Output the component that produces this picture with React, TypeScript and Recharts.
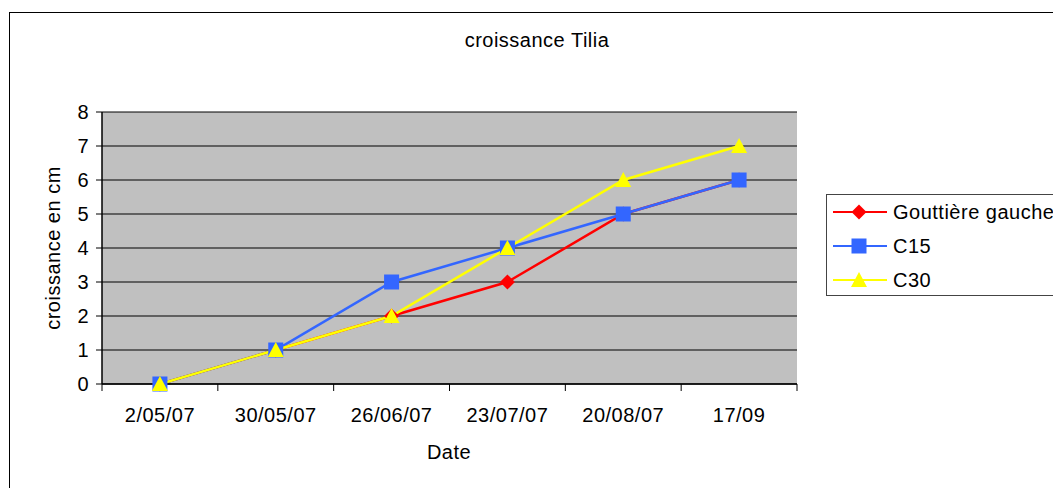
import { LineChart, Line, XAxis, YAxis, CartesianGrid } from "recharts";

const dates = ["2/05/07", "30/05/07", "26/06/07", "23/07/07", "20/08/07", "17/09"];
const gouttiere = [0, 1, 2, 3, 5, 6];
const c15 = [0, 1, 3, 4, 5, 6];
const c30 = [0, 1, 2, 4, 6, 7];
const yTicks = [0, 1, 2, 3, 4, 5, 6, 7, 8];

const seriesNames = ["Gouttière gauche", "C15", "C30"];
const RED = "#FF0000";
const BLUE = "#3366FF";
const YELLOW = "#FFFF00";

const data = dates.map((date, i) => ({
  date,
  gouttiere: gouttiere[i],
  c15: c15[i],
  c30: c30[i],
}));

const FONT = "'Liberation Sans', Arial, sans-serif";
const FS = 20;
const LS = 0.5;
const W = 1053;
const H = 488;
const PLOT_LEFT = 102;
const PLOT_RIGHT = 797;
const HALF_BAND = (PLOT_RIGHT - PLOT_LEFT) / dates.length / 2;

function Diamond({ cx, cy }: { cx: number; cy: number }) {
  const r = 7.5;
  return (
    <polygon
      points={`${cx},${cy - r} ${cx + r},${cy} ${cx},${cy + r} ${cx - r},${cy}`}
      fill={RED}
    />
  );
}

function Square({ cx, cy }: { cx: number; cy: number }) {
  return <rect x={cx - 7.5} y={cy - 7.5} width={15} height={15} fill={BLUE} />;
}

function Triangle({ cx, cy }: { cx: number; cy: number }) {
  return (
    <polygon
      points={`${cx},${cy - 8} ${cx + 8},${cy + 7} ${cx - 8},${cy + 7}`}
      fill={YELLOW}
    />
  );
}

function XTick(props: any) {
  const { x, y, payload, index } = props;
  const last = index === dates.length - 1;
  return (
    <g>
      <line x1={x - HALF_BAND} y1={y} x2={x - HALF_BAND} y2={y + 7} stroke="#000" />
      {last && <line x1={x + HALF_BAND} y1={y} x2={x + HALF_BAND} y2={y + 7} stroke="#000" />}
      <text
        x={x}
        y={y + 38}
        textAnchor="middle"
        fontSize={FS}
        fontFamily={FONT}
        letterSpacing={LS}
        fill="#000"
      >
        {payload.value}
      </text>
    </g>
  );
}

function LegendBox() {
  const markers = [Diamond, Square, Triangle];
  const colors = [RED, BLUE, YELLOW];
  return (
    <div
      style={{
        position: "absolute",
        left: 826,
        top: 194,
        width: 260,
        height: 100,
        border: "1px solid #444",
        background: "#fff",
      }}
    >
      <svg width={260} height={100} style={{ position: "absolute", left: 0, top: 0 }}>
        {seriesNames.map((name, i) => {
          const cy = 17 + i * 34;
          const M = markers[i];
          return (
            <g key={name}>
              <line x1={6} y1={cy} x2={60} y2={cy} stroke={colors[i]} strokeWidth={2} />
              <M cx={32} cy={cy} />
              <text
                x={66}
                y={cy + 7}
                fontSize={FS}
                fontFamily={FONT}
                letterSpacing={LS}
                fill="#000"
              >
                {name}
              </text>
            </g>
          );
        })}
      </svg>
    </div>
  );
}

export default function App() {
  return (
    <div
      style={{
        position: "absolute",
        left: 0,
        top: 0,
        width: W,
        height: H,
        overflow: "hidden",
        background: "#fff",
        fontFamily: FONT,
        letterSpacing: LS,
      }}
    >
      <div
        style={{
          position: "absolute",
          left: 9,
          top: 12,
          width: 1100,
          height: 600,
          border: "1px solid #000",
        }}
      />
      <div
        style={{
          position: "absolute",
          left: 537,
          top: 40,
          transform: "translate(-50%, -50%)",
          fontSize: FS,
          whiteSpace: "nowrap",
        }}
      >
        croissance Tilia
      </div>
      <div
        style={{
          position: "absolute",
          left: 53,
          top: 248,
          transform: "translate(-50%, -50%) rotate(-90deg)",
          fontSize: FS,
          whiteSpace: "nowrap",
        }}
      >
        croissance en cm
      </div>
      <div
        style={{
          position: "absolute",
          left: 449,
          top: 452,
          transform: "translate(-50%, -50%)",
          fontSize: FS,
        }}
      >
        Date
      </div>
      <div style={{ position: "absolute", left: 0, top: 0 }}>
        <LineChart
          width={W}
          height={H}
          data={data}
          margin={{ top: 112, right: W - PLOT_RIGHT, bottom: 64, left: 40 }}
        >
          <CartesianGrid vertical={false} stroke="#000" fill="#C0C0C0" fillOpacity={1} />
          <XAxis
            dataKey="date"
            height={40}
            padding={{ left: HALF_BAND, right: HALF_BAND }}
            tickLine={false}
            tickSize={0}
            tickMargin={0}
            axisLine={{ stroke: "#000", strokeWidth: 1.5 }}
            tick={<XTick />}
            interval={0}
          />
          <XAxis
            xAxisId="top"
            dataKey="date"
            orientation="top"
            height={0}
            tick={false}
            tickLine={false}
            axisLine={{ stroke: "#808080" }}
          />
          <YAxis
            width={62}
            domain={[0, 8]}
            ticks={yTicks}
            interval={0}
            tickSize={6}
            tickMargin={7}
            axisLine={{ stroke: "#000", strokeWidth: 1.5 }}
            tickLine={{ stroke: "#000" }}
            tick={{ fontSize: FS, fontFamily: FONT, fill: "#000" }}
          />
          <YAxis
            yAxisId="right"
            orientation="right"
            width={0}
            domain={[0, 8]}
            tick={false}
            tickLine={false}
            axisLine={{ stroke: "#808080", strokeWidth: 1.5 }}
          />
          <Line
            dataKey="gouttiere"
            stroke={RED}
            strokeWidth={2.5}
            isAnimationActive={false}
            dot={(p: any) => <Diamond key={`d${p.index}`} cx={p.cx} cy={p.cy} />}
          />
          <Line
            dataKey="c15"
            stroke={BLUE}
            strokeWidth={2.5}
            isAnimationActive={false}
            dot={(p: any) => <Square key={`s${p.index}`} cx={p.cx} cy={p.cy} />}
          />
          <Line
            dataKey="c30"
            stroke={YELLOW}
            strokeWidth={2.5}
            isAnimationActive={false}
            dot={(p: any) => <Triangle key={`t${p.index}`} cx={p.cx} cy={p.cy} />}
          />
        </LineChart>
      </div>
      <LegendBox />
    </div>
  );
}
